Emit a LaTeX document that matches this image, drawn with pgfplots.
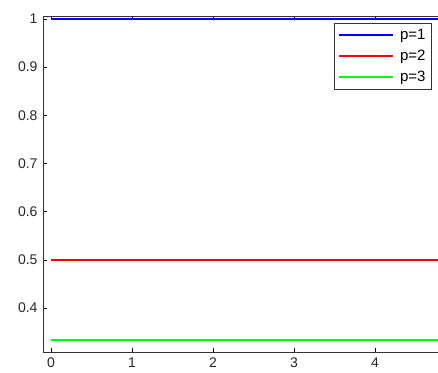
\documentclass[border=0pt]{standalone}
\usepackage{fontspec}
\setmainfont{Liberation Sans}
\usepackage{pgfplots}
\pgfplotsset{compat=1.18}
\definecolor{mblue}{RGB}{0,0,255}
\definecolor{mred}{RGB}{255,0,0}
\definecolor{mgreen}{RGB}{0,255,0}
\begin{document}
\begin{tikzpicture}
\begin{axis}[
  name=ax,
  scale only axis,
  width=413.1pt, height=336pt,
  xmin=-0.1, xmax=5,
  ymin=0.3087, ymax=1.006,
  xtick={0,1,2,3,4},
  ytick={0.4,0.5,0.6,0.7,0.8,0.9,1},
  tick align=inside,
  major tick length=4pt,
  tick style={black, line width=0.6pt},
  axis line style={black!80, line width=0.9pt},
  /pgf/number format/assume math mode=true,
  /pgf/number format/fixed,
  /pgf/number format/precision=1,
  xticklabel style={font=\fontsize{14}{16}\selectfont, text=black!85, yshift=-2pt},
  yticklabel style={font=\fontsize{14}{16}\selectfont, text=black!85, xshift=-2pt},
  legend style={at={(axis cs:3.49,0.9915)}, anchor=north west,
    draw=black!80, line width=0.9pt, font=\fontsize{15}{17}\selectfont,
    inner xsep=4pt, inner ysep=4pt, row sep=5pt, cells={anchor=west}},
  legend image code/.code={\draw[#1] (0pt,0pt) -- (54pt,0pt); \path (58pt,0pt);},
  legend cell align=left,
]
\addplot[draw=mblue, mark=none, line width=1.8pt] coordinates {(0,1) (5,1)};
\addplot[draw=mred, mark=none, line width=1.5pt] coordinates {(0,0.5) (5,0.5)};
\addplot[draw=mgreen, mark=none, line width=1.5pt] coordinates {(0,0.3333) (5,0.3333)};
\legend{p=1,p=2,p=3}
\end{axis}
\pgfresetboundingbox
\path (ax.south west) ++(-43pt,-20pt) coordinate (bl);
\path (ax.north west) ++(395pt,16pt) coordinate (tr);
\path (bl) rectangle (tr);
\end{tikzpicture}
\end{document}
